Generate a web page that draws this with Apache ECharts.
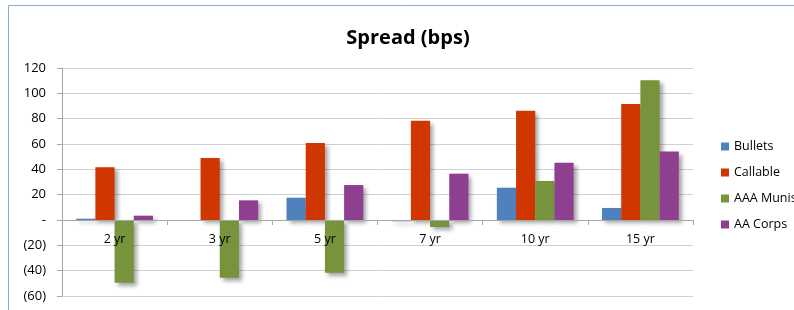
<!DOCTYPE html>
<html><head><meta charset="utf-8">
<script src="https://cdn.jsdelivr.net/npm/echarts@6/dist/echarts.min.js"></script>
<style>html,body{margin:0;padding:0;background:#fff}#c{width:794px;height:310px}</style>
</head><body><div id="c"></div>
<script>
const categories = ['2 yr', '3 yr', '5 yr', '7 yr', '10 yr', '15 yr'];
const bullets = [1, 0, 17.6, -1, 25.5, 9.5];
const callable = [41.6, 49, 60.8, 78.4, 86.3, 91.6];
const aaaMunis = [-49.5, -45.5, -41.6, -5.5, 30.8, 110.3];
const aaCorps = [3.4, 15.5, 27.6, 36.6, 45.2, 54];
const seriesNames = ['Bullets', 'Callable', 'AAA Munis', 'AA Corps'];
const colors = ['#4F81BD', '#D03600', '#77933C', '#8F3F90'];
const font = 'Open Sans';

const chart = echarts.init(document.getElementById('c'), null, {renderer: 'canvas'});
const shadow = {shadowBlur: 4, shadowOffsetX: 3, shadowOffsetY: 3, shadowColor: 'rgba(0,0,0,0.35)'};
const mk = (name, data, i) => ({
  name, type: 'bar', data, barGap: '0%', barCategoryGap: '27%',
  itemStyle: Object.assign({color: colors[i]}, shadow)
});
chart.setOption({
  animation: false,
  graphic: [{type: 'rect', shape: {x: 8.5, y: 5.5, width: 900, height: 400},
    style: {fill: 'none', stroke: '#8AA8D4', lineWidth: 1}, z: -1}],
  title: {text: 'Spread (bps)', left: 403, top: 23, textAlign: 'center',
    textStyle: {fontFamily: font, fontWeight: 'bold', fontSize: 20, color: '#000'}},
  legend: {orient: 'vertical', left: 716, top: 135, itemWidth: 8, itemHeight: 8, itemGap: 13,
    icon: 'rect', textStyle: {fontFamily: font, fontSize: 12.5, color: '#000'},
    data: seriesNames},
  grid: {left: 62, right: 101, top: 68, bottom: 14, containLabel: false, outerBoundsMode: 'none'},
  xAxis: {type: 'category', data: categories, position: 'bottom', offset: -76, z: 10,
    axisLine: {onZero: false, lineStyle: {color: '#A6A6A6'}},
    axisTick: {show: true, length: 5, lineStyle: {color: '#A6A6A6'}},
    axisLabel: {margin: 13, fontFamily: font, fontSize: 12.5, color: '#000'}},
  yAxis: {type: 'value', min: -60, max: 120, interval: 20,
    axisLine: {show: true, lineStyle: {color: '#A6A6A6'}},
    axisTick: {show: true, length: 5, lineStyle: {color: '#A6A6A6'}},
    splitLine: {lineStyle: {color: '#D0D0D0'}},
    axisLabel: {margin: 16, fontFamily: font, fontSize: 13, color: '#000',
      formatter: v => v === 0 ? '-' : (v < 0 ? '(' + (-v) + ')' : String(v))}},
  series: [mk(seriesNames[0], bullets, 0), mk(seriesNames[1], callable, 1),
           mk(seriesNames[2], aaaMunis, 2), mk(seriesNames[3], aaCorps, 3)]
});
</script></body></html>
